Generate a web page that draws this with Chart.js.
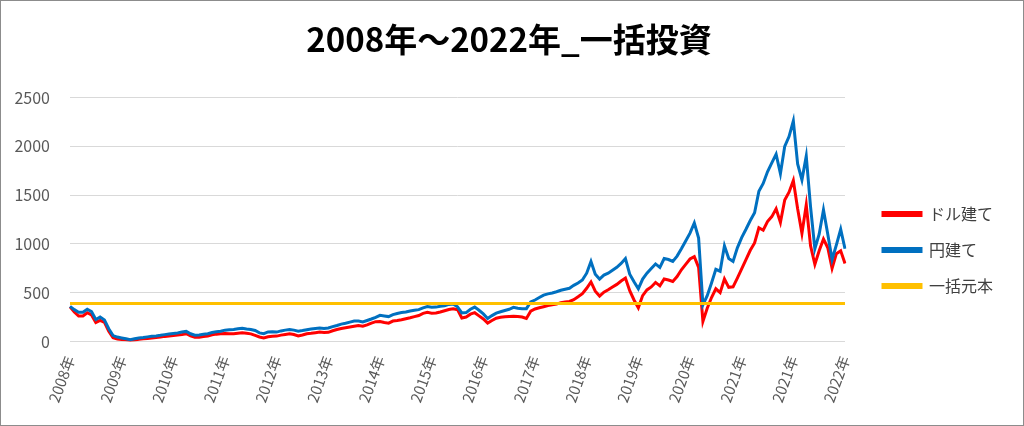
<!DOCTYPE html>
<html>
<head>
  <title>2008年～2022年_一括投資</title>
  <script src="https://cdn.jsdelivr.net/npm/chart.js"></script>
  <style>
    body { margin: 0; background: #fff; }
    #wrap { width: 1024px; height: 426px; box-sizing: border-box; border: 1px solid #8c8c8c; position: relative; }
  </style>
</head>
<body>
  <div id="wrap"><canvas id="chartIkkatsu"></canvas></div>

  <script>
    // 目盛りの年ラベル（12点ごとに1つ）
    const yearLabels = ['2008年', '2009年', '2010年', '2011年', '2012年', '2013年', '2014年', '2015年',
      '2016年', '2017年', '2018年', '2019年', '2020年', '2021年', '2021年', '2022年'];
    const step = 12;

    // 円建て評価額
    const yenValues = [
      360, 326, 300, 300, 330, 305, 225, 250, 220, 130, 60, 45,
      36, 27, 17, 28, 36, 41, 47, 53, 57, 63, 70, 76,
      82, 87, 96, 103, 79, 64, 67, 74, 80, 92, 99, 104,
      116, 120, 123, 130, 136, 128, 122, 112, 88, 80, 98, 100,
      96, 108, 116, 123, 116, 106, 112, 120, 127, 132, 137, 133,
      138, 152, 164, 178, 186, 198, 209, 210, 200, 215, 230, 247,
      268, 262, 255, 275, 287, 296, 302, 312, 320, 326, 345, 358,
      350, 352, 360, 365, 380, 385, 355, 292, 296, 330, 352, 320,
      282, 235, 265, 290, 305, 318, 330, 350, 340, 336, 336, 405,
      425, 450, 475, 488, 497, 510, 525, 535, 545, 575, 600, 630,
      700, 820, 690, 640, 680, 700, 730, 760, 800, 850, 690, 612,
      540, 640, 700, 748, 795, 760, 850, 840, 820, 875, 950, 1030,
      1110, 1215, 1060, 375, 470, 600, 740, 720, 980, 850, 820, 960,
      1065, 1150, 1240, 1320, 1540, 1620, 1740, 1830, 1920, 1720, 2000, 2100,
      2260, 1820, 1657, 1900, 1380, 950, 1100, 1350, 1100, 840, 990, 1150, 950
    ];

    // ドル建て評価額
    const usdValues = [
      355, 302, 260, 262, 295, 272, 195, 216, 196, 105, 38, 25,
      20, 17, 10, 15, 22, 27, 31, 36, 40, 45, 52, 56,
      61, 66, 72, 79, 58, 42, 44, 50, 56, 68, 75, 79,
      82, 78, 80, 85, 89, 84, 78, 62, 46, 36, 48, 53,
      55, 65, 72, 79, 71, 56, 66, 79, 84, 90, 96, 92,
      94, 110, 122, 132, 140, 148, 155, 163, 156, 170, 188, 203,
      205, 195, 188, 209, 214, 222, 233, 243, 255, 266, 288, 298,
      290, 292, 302, 315, 328, 334, 326, 240, 250, 280, 295, 262,
      230, 188, 215, 238, 248, 254, 257, 258, 256, 250, 235, 310,
      333, 345, 356, 368, 375, 383, 398, 404, 410, 428, 458, 490,
      545, 610, 515, 465, 505, 530, 558, 585, 620, 650, 520, 425,
      345, 470, 528, 559, 605, 570, 640, 630, 615, 665, 735, 790,
      845, 870, 760, 205, 340, 450, 540, 500, 640, 555, 560, 650,
      745, 840, 935, 1010, 1165, 1140, 1230, 1280, 1360, 1220, 1450, 1530,
      1650, 1360, 1108, 1400, 980, 790, 930, 1050, 960, 750, 900, 930, 800
    ];

    // 一括元本
    const principal = 390;

    const labels = usdValues.map((v, i) => (i % step === 0 ? yearLabels[i / step] : ''));
    const principalLine = labels.map(() => principal);

    const font = '"Noto Sans CJK JP", "Noto Sans", sans-serif';
    Chart.defaults.font.family = font;

    const ctx = document.getElementById('chartIkkatsu').getContext('2d');
    new Chart(ctx, {
      type: 'line',
      data: {
        labels: labels,
        datasets: [
          { label: 'ドル建て', data: usdValues, borderColor: '#FF0000', backgroundColor: '#FF0000', order: 3 },
          { label: '円建て', data: yenValues, borderColor: '#0070C0', backgroundColor: '#0070C0', order: 2 },
          { label: '一括元本', data: principalLine, borderColor: '#FFC000', backgroundColor: '#FFC000', order: 1 }
        ]
      },
      options: {
        responsive: true,
        maintainAspectRatio: false,
        animation: false,
        elements: {
          point: { radius: 0 },
          line: { borderWidth: 3, tension: 0 }
        },
        layout: { padding: { left: 14, right: 20, bottom: 16 } },
        plugins: {
          title: {
            display: true,
            text: '2008年～2022年_一括投資',
            color: '#000',
            font: { size: 33, weight: 'bold' },
            padding: { top: 19, bottom: 38 }
          },
          legend: {
            position: 'right',
            title: {
              display: true,
              text: ' ',
              font: { size: 10 },
              padding: { top: 39, bottom: 39 }
            },
            labels: {
              boxWidth: 38,
              boxHeight: 3,
              padding: 20,
              color: '#404040',
              font: { size: 16 },
              sort: (a, b) => a.datasetIndex - b.datasetIndex
            }
          },
          tooltip: { enabled: false }
        },
        scales: {
          x: {
            grid: { display: false },
            border: { color: '#d9d9d9' },
            ticks: {
              autoSkip: false,
              maxRotation: 70,
              minRotation: 70,
              color: '#595959',
              font: { size: 15 },
              padding: 4
            },
            afterFit: (scale) => { scale.paddingLeft = 0; }
          },
          y: {
            min: 0,
            max: 2500,
            ticks: {
              stepSize: 500,
              color: '#595959',
              font: { size: 16 },
              padding: 20,
              callback: (v) => String(v)
            },
            grid: { color: '#d9d9d9', drawTicks: false },
            border: { display: false },
            afterFit: (scale) => { scale.width = 55; }
          },
          y2: {
            position: 'right',
            grid: { display: false },
            border: { display: false },
            ticks: { display: false },
            afterFit: (scale) => { scale.width = 18; }
          }
        }
      }
    });
  </script>
</body>
</html>
